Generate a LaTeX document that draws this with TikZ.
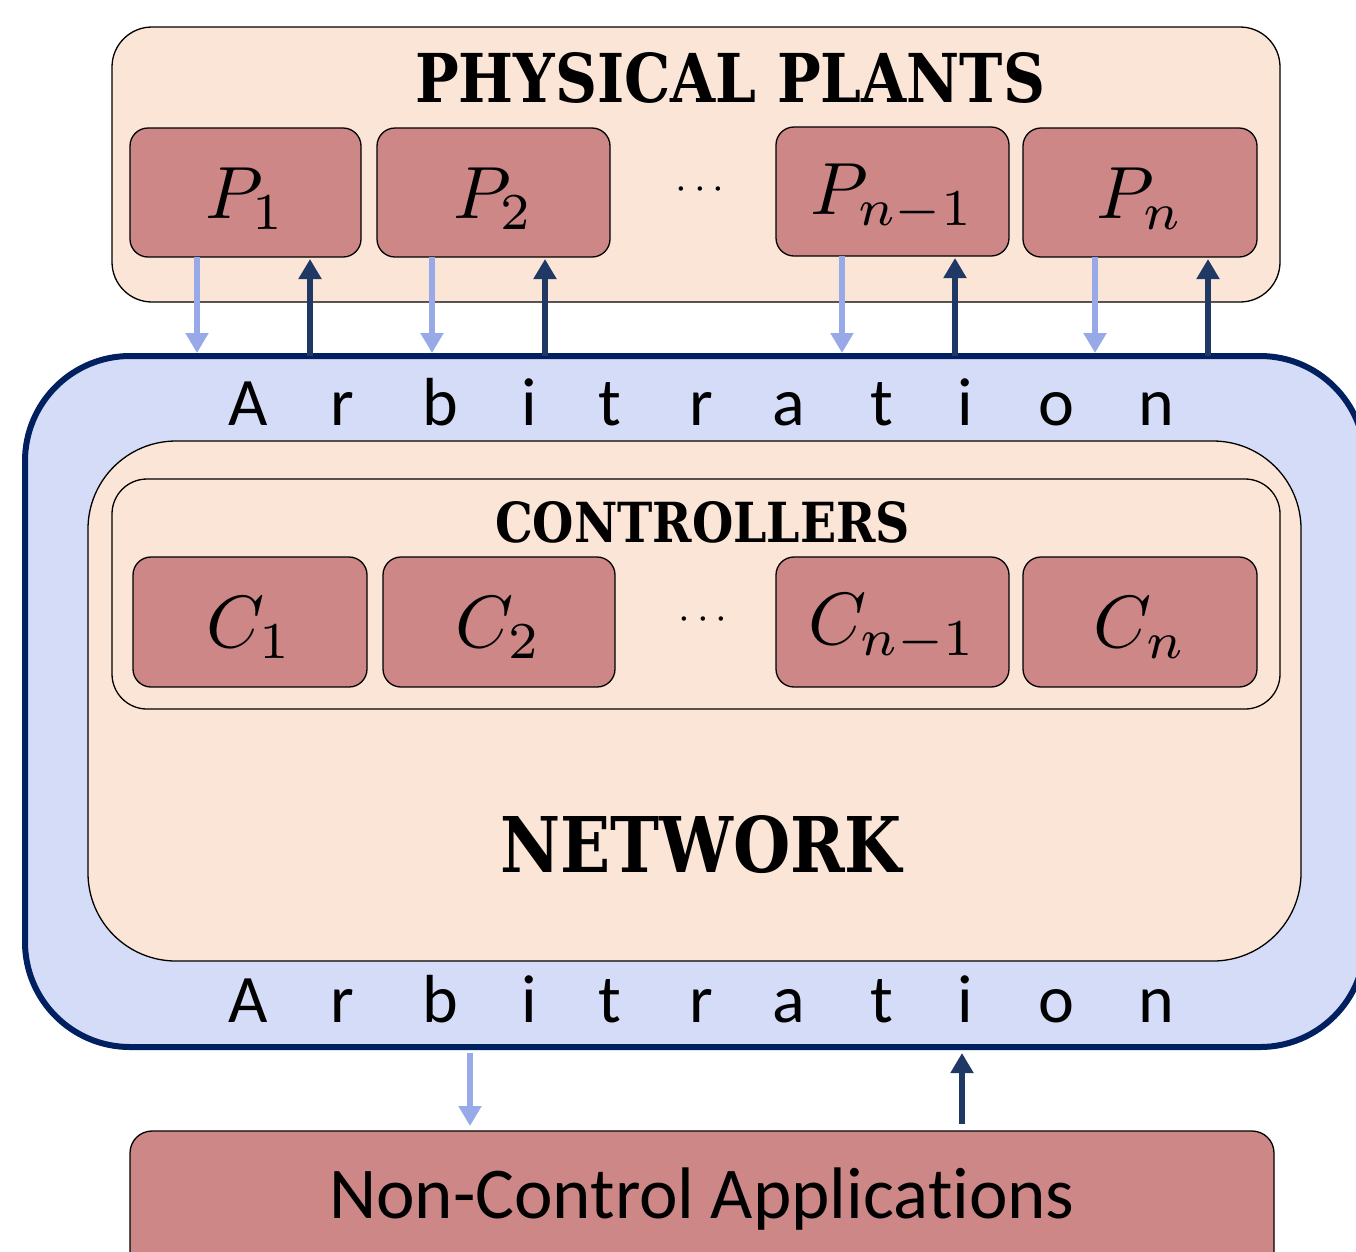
\documentclass[tikz,border=0pt]{standalone}
\usepackage{fontspec}
\usepackage{graphicx}
\usetikzlibrary{arrows.meta}
\newfontfamily\calib{Carlito}[Ligatures=NoCommon]
\newfontfamily\heavy{DejaVu Serif}
\definecolor{peach}{HTML}{FBE5D6}
\definecolor{rose}{HTML}{CD8787}
\definecolor{lav}{HTML}{D5DCF7}
\definecolor{navy}{HTML}{002060}
\definecolor{lightarr}{HTML}{98A9E8}
\definecolor{darkarr}{HTML}{1F3864}
\newcommand{\unitlabel}[1]{\raisebox{-6pt}[\height][\depth]{\scalebox{7.4}{$#1$}}}
\begin{document}
\begin{tikzpicture}[x=1pt,y=-1pt,
  box/.style={draw=black, line width=1.3pt, inner sep=0pt, outer sep=0pt, anchor=north west},
  unit/.style={box, fill=rose, rounded corners=18pt, minimum height=129pt},
  title/.style={inner sep=0pt, outer sep=0pt, anchor=south west},
  letter/.style={inner sep=0pt, anchor=base, font=\calib\fontsize{68}{70}\selectfont},
  dotsnode/.style={inner sep=0pt},
  downarr/.style={draw=lightarr, line width=6pt, -{Triangle[length=20pt,width=22pt]}},
  uparr/.style={draw=darkarr, line width=6pt, -{Triangle[length=20pt,width=22pt]}}]
\useasboundingbox (0,0) rectangle (1356,1251);

% physical plants
\node[box, fill=peach, rounded corners=40pt, minimum width=1168pt, minimum height=275pt] (phys) at (112,27) {};
\node[title] (physT) at (415,103) {\resizebox{630pt}{50pt}{\heavy\bfseries PHYSICAL PLANTS}};
\node[unit, minimum width=231pt] (P1) at (130,128) {\unitlabel{P_1}};
\node[unit, minimum width=233pt] (P2) at (377,128) {\unitlabel{P_2}};
\node[unit, minimum width=233pt] (Pm) at (776,127) {\unitlabel{P_{n-1}}};
\node[unit, minimum width=234pt] (Pn) at (1023,128) {\unitlabel{P_n}};
\node[dotsnode] (pdots) at (700,190) {\scalebox{4.2}{$\cdots$}};

% network
\node[box, draw=navy, line width=6pt, fill=lav, rounded corners=105pt, minimum width=1340pt, minimum height=691pt] (net) at (25,356) {};
\node[box, fill=peach, rounded corners=88pt, minimum width=1213pt, minimum height=520pt] (inner) at (88,441) {};
\node[box, fill=peach, rounded corners=35pt, minimum width=1168pt, minimum height=230pt] (ctrl) at (112,479) {};
\node[title] (ctrlT) at (495,543) {\resizebox{415pt}{41pt}{\heavy\bfseries CONTROLLERS}};
\node[unit, minimum width=234pt, minimum height=130pt] (C1) at (133,557) {\unitlabel{C_1}};
\node[unit, minimum width=232pt, minimum height=130pt] (C2) at (383,557) {\unitlabel{C_2}};
\node[unit, minimum width=233pt, minimum height=130pt] (Cm) at (776,557) {\unitlabel{C_{n-1}}};
\node[unit, minimum width=234pt, minimum height=130pt] (Cn) at (1023,557) {\unitlabel{C_n}};
\node[dotsnode] (cdots) at (703,620) {\scalebox{4.2}{$\cdots$}};
\node[title] (netT) at (500,874) {\resizebox{402pt}{57pt}{\heavy\bfseries NETWORK}};

\foreach \ch [count=\i] /\xx in {A/248, r/342, b/440, i/529, t/610, r/701, a/789, t/882, i/965, o/1056, n/1156} {
  \node[letter] (arbT\i) at (\xx,425) {\ch};
  \node[letter] (arbB\i) at (\xx,1022) {\ch};
}

% non-control applications
\node[box, fill=rose, rounded corners=22pt, minimum width=1144pt, minimum height=170pt] (nca) at (130,1131) {};
\node[inner sep=0pt, anchor=base, font=\calib\fontsize{73}{75}\selectfont] (ncaT) at (702,1218) {Non-Control Applications};

% arrows plants <-> network
\foreach \p/\a/\b in {P1/67/180, P2/55/168, Pm/66/179, Pn/72/185} {
  \draw[downarr, shorten >=3pt] ([xshift=\a pt]\p.south west) -- ([xshift=\a pt]\p.south west |- net.north);
  \draw[uparr, shorten >=2pt] ([xshift=\b pt]\p.south west |- net.north) -- ([xshift=\b pt]\p.south west);
}
% arrows network <-> applications
\draw[downarr, shorten <=6pt, shorten >=5pt] ([xshift=340pt]nca.north west |- net.south) -- ([xshift=340pt]nca.north west);
\draw[uparr, shorten <=7pt, shorten >=6pt] ([xshift=832pt]nca.north west) -- ([xshift=832pt]nca.north west |- net.south);
\end{tikzpicture}
\end{document}
